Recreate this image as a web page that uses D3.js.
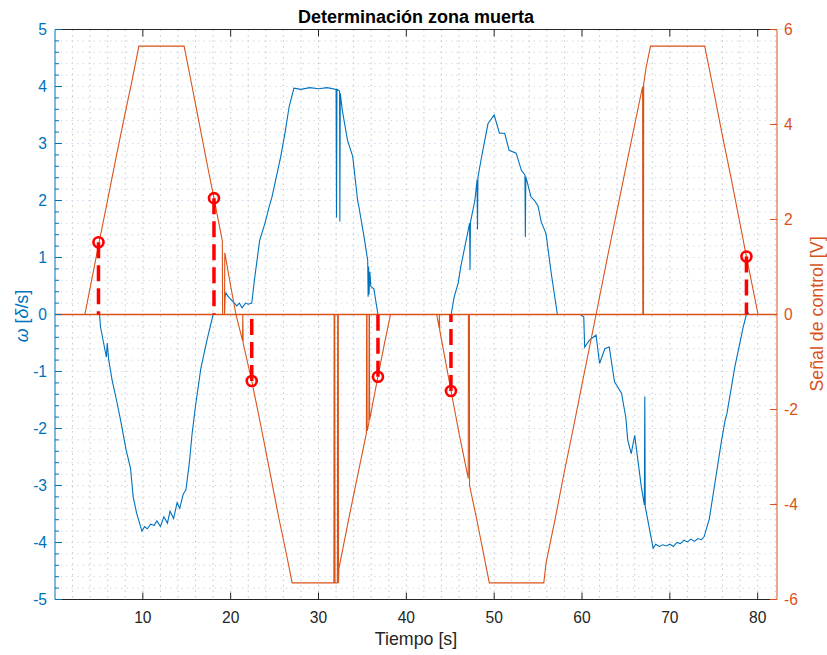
<!DOCTYPE html>
<html><head><meta charset="utf-8">
<script src="https://cdn.jsdelivr.net/npm/d3@7"></script>
<style>
body{margin:0;background:#fff}
svg{display:block}
text{font-family:"Liberation Sans",Arial,Helvetica,sans-serif}
</style>
</head><body>
<svg id="chart" width="827" height="655"></svg>
<script>
// ---- data ----
const ctrlT = [0,3.4,4.2,5.0,6.0,7.0,8.0,8.8,9.55,14.7,15.5,16.5,17.5,18.1,19.05,19.08,19.3,19.33,20.0,20.6,21.35,21.38,21.42,22.4,23.5,24.5,25.5,26.3,27.0,31.75,31.78,31.85,31.88,32.15,32.18,32.25,32.28,32.32,33.5,34.5,35.45,35.48,35.52,35.54,35.74,35.76,35.8,35.82,36.77,37.5,38.2,43.45,43.74,43.76,43.8,45.08,46.0,47.05,47.07,47.18,47.2,48.0,49.45,55.65,55.9,57.0,58.0,59.0,60.0,61.6,63.0,64.5,66.0,66.9,66.92,67.0,67.02,67.3,67.8,73.97,75.0,76.0,77.0,78.0,78.72,80.05,82.2];
const ctrlV = [0,0,0.75,1.5,2.42,3.35,4.25,4.95,5.65,5.65,4.9,3.95,3.0,2.45,1.55,0,0,1.3,0.6,0,-0.55,0,-0.6,-1.4,-2.4,-3.35,-4.3,-5.0,-5.65,-5.65,0,0,-5.65,-5.65,0,0,-5.65,-5.35,-4.25,-3.35,-2.5,0,0,-2.45,-2.28,0,0,-2.22,-1.3,-0.62,0,0,-0.28,0,-0.33,-1.6,-2.5,-3.45,0,0,-3.6,-4.3,-5.65,-5.65,-5.24,-4.25,-3.3,-2.4,-1.47,0,1.3,2.65,4.0,4.8,0,0,4.85,5.2,5.65,5.65,4.7,3.75,2.85,1.9,1.22,0,0];

const omegaT = [0,5.07,5.18,5.85,5.95,6.1,6.5,7.0,7.46,8.1,8.6,8.9,9.3,9.9,10.2,10.5,10.9,11.3,11.6,12.0,12.4,12.8,13.1,13.5,13.9,14.2,14.6,14.9,15.3,15.6,16.0,16.6,17.3,18.0,19.3,19.35,19.45,19.8,20.3,20.7,21.0,21.3,21.7,22.0,22.4,22.7,23.3,23.9,24.4,24.7,25.7,26.2,26.65,27.2,28.0,29.0,30.0,31.0,32.0,32.05,32.1,32.4,32.43,32.48,32.7,33.3,33.9,34.45,34.6,35.2,35.6,35.65,35.7,35.75,35.85,35.95,36.05,36.3,36.77,45.1,45.45,45.9,46.2,47.2,47.25,47.3,47.8,48.05,48.1,48.15,48.5,49.3,50.0,50.6,51.2,51.7,52.5,53.1,53.5,53.55,53.6,54.2,54.6,55.0,55.35,55.9,56.5,57.2,59.8,60.2,60.3,60.85,61.6,62.0,62.6,63.1,63.7,64.5,65.0,65.2,65.6,66.0,66.75,67.1,67.15,67.2,67.7,68.1,68.4,68.8,69.2,69.6,70.0,70.4,70.8,71.2,71.6,72.0,72.4,72.8,73.2,73.6,73.9,74.5,75.3,75.9,76.3,76.5,77.4,78.35,78.72,78.85,79.0,82.2];
const omegaV = [0,0,-0.22,-0.75,-0.5,-0.78,-1.15,-1.5,-1.85,-2.38,-2.7,-3.2,-3.49,-3.8,-3.72,-3.76,-3.68,-3.7,-3.62,-3.72,-3.55,-3.66,-3.45,-3.58,-3.3,-3.4,-3.15,-3.08,-2.6,-2.1,-1.6,-0.95,-0.45,0,0,0.3,0.38,0.3,0.22,0.15,0.2,0.12,0.2,0.18,0.2,0.6,1.3,1.6,1.9,2.06,2.77,3.2,3.64,3.97,3.95,3.98,3.96,3.98,3.95,1.7,3.95,3.92,1.63,3.88,3.59,3.06,2.77,2.0,1.89,1.35,0.95,0.31,0.84,0.35,0.75,0.5,0.48,0.45,0,0,0.31,0.55,0.84,1.6,0.78,1.62,2.0,2.36,1.49,2.4,2.71,3.35,3.5,3.18,3.18,2.88,2.83,2.53,2.45,1.36,2.42,2.06,2.0,1.9,1.63,1.42,0.72,0,0,-0.04,-0.57,-0.45,-0.36,-0.86,-0.6,-0.57,-1.18,-1.38,-1.82,-2.2,-2.44,-2.12,-3.02,-3.34,-1.44,-3.37,-3.78,-4.1,-4.03,-4.07,-4.04,-4.06,-4.03,-4.07,-4.0,-4.02,-3.96,-3.99,-3.94,-3.98,-3.93,-3.95,-3.9,-3.58,-2.79,-2.2,-1.85,-1.74,-0.92,-0.22,0,0.05,0,0];

const markT = [4.95,18.1,22.4,36.77,45.08,78.72];
const markV = [1.52,2.45,-1.4,-1.31,-1.61,1.22];

const xTicks = [10,20,30,40,50,60,70,80];
const yLeftTicks = [-5,-4,-3,-2,-1,0,1,2,3,4,5];
const yRightTicks = [-6,-4,-2,0,2,4,6];

const titleText = "Determinación zona muerta";
const xLabel = "Tiempo [s]";
const yRightLabel = "Señal de control [V]";

// ---- layout ----
const BLUE = "#0072BD", ORANGE = "#D95319", DARK = "#262626";
const L = 55, R = 777, T = 29.5, B = 599.5;
const svg = d3.select("#chart");
const x = d3.scaleLinear().domain([0, 82.2]).range([L, R]);
const yL = d3.scaleLinear().domain([-5, 5]).range([B, T]);
const yR = d3.scaleLinear().domain([-6, 6]).range([B, T]);

// grid
const g = svg.append("g");
g.selectAll("line.v").data(d3.range(2, 82.1, 2)).join("line")
  .attr("x1", d => x(d)).attr("x2", d => x(d)).attr("y1", T).attr("y2", B)
  .attr("stroke", "#c6c6c6").attr("stroke-width", 1).attr("stroke-dasharray", "1.5,4");
g.selectAll("line.h").data(d3.range(-4.8, 4.9, 0.2)).join("line")
  .attr("y1", d => yL(d)).attr("y2", d => yL(d)).attr("x1", L).attr("x2", R)
  .attr("stroke", "#c8def0").attr("stroke-width", 1).attr("stroke-dasharray", "1.5,4");

// series
const omega = omegaT.map((t, i) => [t, omegaV[i]]);
const ctrl = ctrlT.map((t, i) => [t, ctrlV[i]]);
svg.append("path").datum(omega)
  .attr("d", d3.line().x(d => x(d[0])).y(d => yL(d[1])))
  .attr("fill", "none").attr("stroke", BLUE).attr("stroke-width", 1.1);
svg.append("path").datum(ctrl)
  .attr("d", d3.line().x(d => x(d[0])).y(d => yR(d[1])))
  .attr("fill", "none").attr("stroke", ORANGE).attr("stroke-width", 1.1);
// zero reference
svg.append("line").attr("x1", x(0)).attr("x2", x(82.2)).attr("y1", yR(0)).attr("y2", yR(0))
  .attr("stroke", ORANGE).attr("stroke-width", 1.3);

// markers
const marks = markT.map((t, i) => [t, markV[i]]);
svg.selectAll("line.mk").data(marks).join("line")
  .attr("x1", d => x(d[0])).attr("x2", d => x(d[0]))
  .attr("y1", d => yR(d[1])).attr("y2", yR(0))
  .attr("stroke", "#ff0000").attr("stroke-width", 3.5).attr("stroke-dasharray", "16,7");
svg.selectAll("circle.mk").data(marks).join("circle")
  .attr("cx", d => x(d[0])).attr("cy", d => yR(d[1])).attr("r", 5)
  .attr("fill", "none").attr("stroke", "#ff0000").attr("stroke-width", 2.6);

// axes
const ax = svg.append("g");
ax.append("line").attr("x1", L).attr("x2", R).attr("y1", B).attr("y2", B).attr("stroke", DARK);
ax.append("line").attr("x1", L).attr("x2", R).attr("y1", T).attr("y2", T).attr("stroke", DARK);
ax.append("line").attr("x1", L).attr("x2", L).attr("y1", T).attr("y2", B).attr("stroke", BLUE);
ax.append("line").attr("x1", R).attr("x2", R).attr("y1", T).attr("y2", B).attr("stroke", ORANGE);

// x ticks
ax.selectAll("line.xb").data(xTicks).join("line")
  .attr("x1", d => x(d)).attr("x2", d => x(d)).attr("y1", B).attr("y2", B - 7).attr("stroke", DARK);
ax.selectAll("line.xt").data(xTicks).join("line")
  .attr("x1", d => x(d)).attr("x2", d => x(d)).attr("y1", T).attr("y2", T + 7).attr("stroke", DARK);
ax.selectAll("text.xt").data(xTicks).join("text")
  .attr("x", d => x(d)).attr("y", 623).attr("text-anchor", "middle")
  .attr("font-size", 15.6).attr("fill", DARK).text(d => d);

// left ticks
ax.selectAll("line.yl").data(yLeftTicks).join("line")
  .attr("x1", L).attr("x2", L + 7).attr("y1", d => yL(d)).attr("y2", d => yL(d)).attr("stroke", BLUE);
ax.selectAll("line.ylm").data(d3.range(-4.8, 4.9, 0.2)).join("line")
  .attr("x1", L).attr("x2", L + 4).attr("y1", d => yL(d)).attr("y2", d => yL(d)).attr("stroke", BLUE);
ax.selectAll("text.yl").data(yLeftTicks).join("text")
  .attr("x", 47).attr("y", d => yL(d)).attr("dy", "0.36em").attr("text-anchor", "end")
  .attr("font-size", 15.6).attr("fill", BLUE).text(d => d < 0 ? "-" + Math.abs(d) : d);

// right ticks
ax.selectAll("line.yr").data(yRightTicks).join("line")
  .attr("x1", R).attr("x2", R - 7).attr("y1", d => yR(d)).attr("y2", d => yR(d)).attr("stroke", ORANGE);
ax.selectAll("text.yr").data(yRightTicks).join("text")
  .attr("x", 784).attr("y", d => yR(d)).attr("dy", "0.36em").attr("text-anchor", "start")
  .attr("font-size", 15.6).attr("fill", ORANGE).text(d => d < 0 ? "-" + Math.abs(d) : d);

// labels
svg.append("text").attr("x", 416).attr("y", 23).attr("text-anchor", "middle")
  .attr("font-size", 18).attr("font-weight", "bold").attr("fill", "#000").text(titleText);
svg.append("text").attr("x", 416).attr("y", 645).attr("text-anchor", "middle")
  .attr("font-size", 17.8).attr("fill", DARK).text(xLabel);
const yl = svg.append("text").attr("transform", "translate(28,316) rotate(-90)")
  .attr("text-anchor", "middle").attr("font-size", 17.8).attr("fill", BLUE);
yl.append("tspan").attr("font-style", "italic").text("ω");
yl.append("tspan").text(" [");
yl.append("tspan").attr("font-style", "italic").text("δ");
yl.append("tspan").text("/s]");
svg.append("text").attr("transform", "translate(823,314) rotate(-90)")
  .attr("text-anchor", "middle").attr("font-size", 17.8).attr("fill", ORANGE).text(yRightLabel);
</script>
</body></html>
